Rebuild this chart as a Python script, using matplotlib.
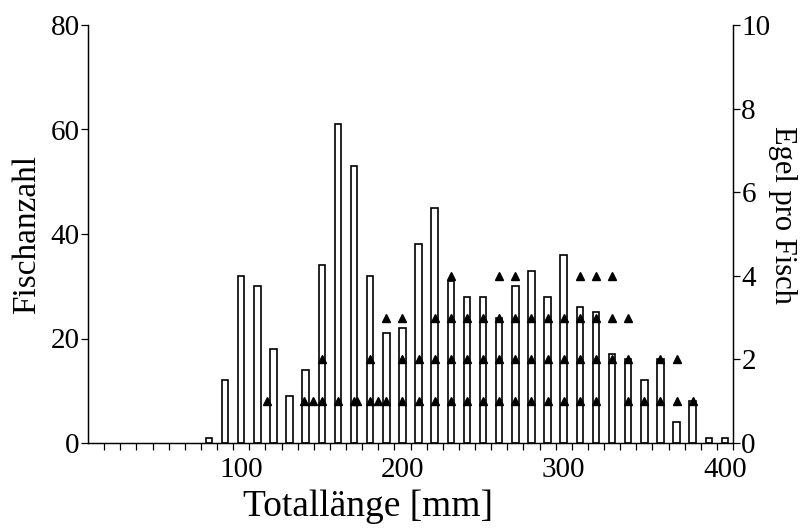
import matplotlib
matplotlib.use('Agg')
import matplotlib.pyplot as plt
import matplotlib.transforms as mtransforms
import numpy as np

plt.rcParams['font.family'] = ['Liberation Serif', 'DejaVu Serif']

# length classes (mm, class midpoints) and number of fish
lengths = [75, 85, 95, 105, 115, 125, 135, 145, 155, 165, 175, 185, 195, 205, 215,
           225, 235, 245, 255, 265, 275, 285, 295, 305, 315, 325, 335, 345, 355,
           365, 375, 385, 395]
fish_count = [1, 12, 32, 30, 18, 9, 14, 34, 61, 53, 32, 21, 22, 38, 45,
              31, 28, 28, 24, 30, 33, 28, 36, 26, 25, 17, 16, 12, 16,
              4, 8, 1, 1]

# leeches per fish (single fish, total length in mm)
leech_len_1 = [111, 134, 139.5, 145, 155, 165, 167, 175, 180, 185, 195, 205, 215, 225,
               235, 245, 255, 265, 275, 285, 295, 305, 315, 335, 345, 355, 365, 375]
leech_len_2 = [145, 175, 195, 205, 215, 225, 235, 245, 255, 265, 275, 285, 295, 305,
               315, 325, 335, 355, 365]
leech_len_3 = [185, 195, 215, 225, 235, 245, 255, 265, 275, 285, 295, 305, 315, 325, 335]
leech_len_4 = [225, 255, 265, 305, 315, 325]

leech_x = leech_len_1 + leech_len_2 + leech_len_3 + leech_len_4
leech_y = ([1] * len(leech_len_1) + [2] * len(leech_len_2)
           + [3] * len(leech_len_3) + [4] * len(leech_len_4))

fig = plt.figure(figsize=(8.02, 5.31), dpi=100)
ax = fig.add_axes([88 / 802, 1 - 443 / 531, 645 / 802, 418 / 531])
ax2 = ax.twinx()

ax.bar(lengths, fish_count, width=4, color='white', edgecolor='black', linewidth=1.2, zorder=2)
ax2.plot(leech_x, leech_y, linestyle='none', marker='^', color='black', markersize=6, zorder=3)

ax.set_xlim(0, 400)
ax.set_ylim(0, 80)
ax2.set_ylim(0, 10)
ax.set_zorder(1)
ax.patch.set_visible(False)
ax2.set_zorder(2)

ax.set_xticks([100, 200, 300, 400])
ax.set_xticks(np.arange(10, 400, 10), minor=True)
ax.set_yticks([0, 20, 40, 60, 80])
ax2.set_yticks([0, 2, 4, 6, 8, 10])

for a in (ax, ax2):
    a.spines['top'].set_visible(False)
    for s in a.spines.values():
        s.set_linewidth(0.9)
    a.tick_params(which='both', direction='out', length=5, width=0.9, labelsize=21)
ax.tick_params(axis='x', which='minor', length=5)
ax.tick_params(axis='x', pad=5)
ax.tick_params(axis='y', pad=1)
ax2.tick_params(axis='y', pad=1)

# x tick labels sit a little left of their ticks in the original
shift = mtransforms.ScaledTranslation(-8 / 100, 0, fig.dpi_scale_trans)
for lab in ax.get_xticklabels():
    lab.set_transform(lab.get_transform() + shift)

ax.set_xlabel('Totallänge [mm]', fontsize=27, ha='center', va='center')
ax.xaxis.set_label_coords(0.434, -0.153)
ax.set_ylabel('Fischanzahl', fontsize=24, ha='center', va='center')
ax.yaxis.set_label_coords(-0.095, 0.5)
ax2.set_ylabel('Egel pro Fisch', fontsize=22, rotation=270, ha='center', va='center')
ax2.yaxis.set_label_coords(1.076, 0.545)

fig.savefig('out.png', dpi=100)
